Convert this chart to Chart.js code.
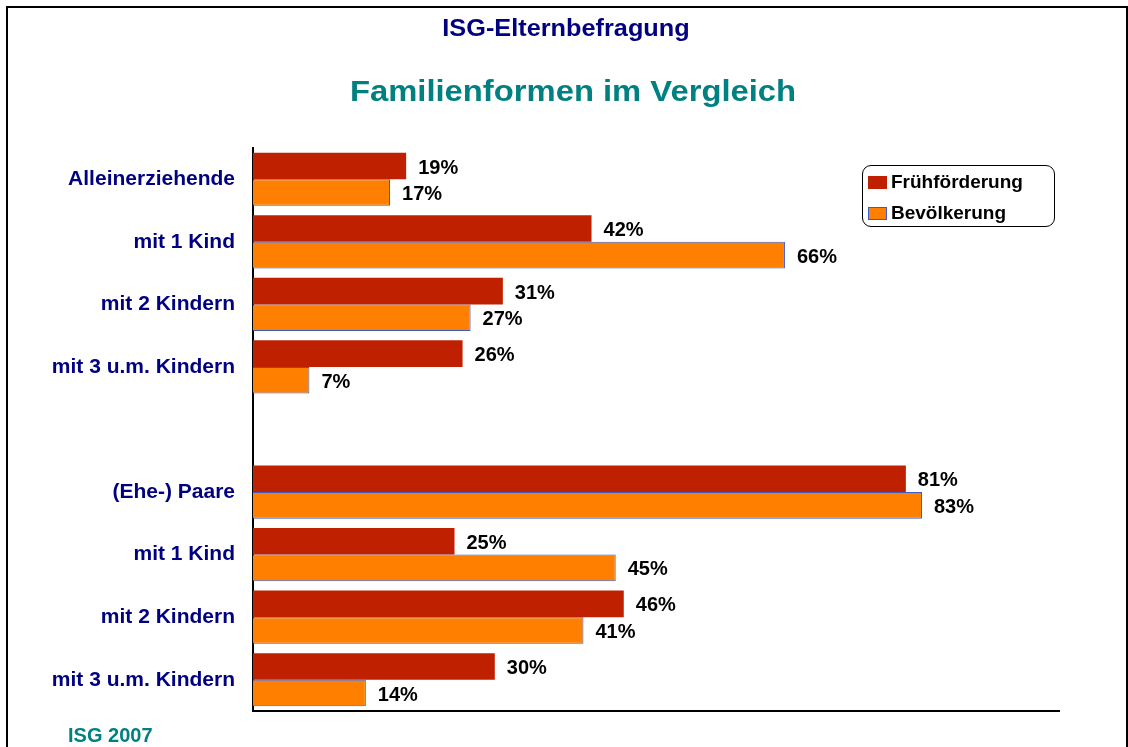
<!DOCTYPE html>
<html>
<head>
<meta charset="utf-8">
<script src="https://cdn.jsdelivr.net/npm/chart.js@4.4.0/dist/chart.umd.min.js"></script>
<style>
  body { margin: 0; background: #fff; overflow: hidden; }
  #wrap { position: relative; width: 1128px; height: 747px; }
  #rahmen { position: absolute; left: 6px; top: 6px; width: 1118px; height: 800px; border: 2px solid #000; border-bottom: none; }
  #legende { position: absolute; left: 862px; top: 165px; width: 191px; height: 60px; border: 1.5px solid #000; border-radius: 9px; background: #fff;
             font: bold 19px "Liberation Sans", Arial, sans-serif; color: #000; }
  .eintrag { position: absolute; left: 5px; height: 22px; line-height: 22px; white-space: nowrap; }
  .eintrag span { display: inline-block; width: 19px; height: 13px; margin-right: 4px; vertical-align: -1px; box-sizing: border-box; }
</style>
</head>
<body>
<div id="wrap">
  <canvas id="grafik" width="1128" height="747"></canvas>
  <div id="rahmen"></div>
  <div id="legende"></div>
</div>
<script>
// Daten
const kategorien = ['Alleinerziehende', 'mit 1 Kind', 'mit 2 Kindern', 'mit 3 u.m. Kindern', '',
                    '(Ehe-) Paare', 'mit 1 Kind', 'mit 2 Kindern', 'mit 3 u.m. Kindern'];
const fruehfoerderung = [19, 42, 31, 26, null, 81, 25, 46, 30];
const bevoelkerung = [17, 66, 27, 7, null, 83, 45, 41, 14];

const rot = '#BF2000';
const orange = '#FF8000';
const blau = '#3A5BC8';
const schrift = '"Liberation Sans", Arial, sans-serif';

// Titel, Werte und Quelle direkt auf die Leinwand
const beschriftung = {
    id: 'beschriftung',
    afterDraw(chart) {
        const ctx = chart.ctx;
        ctx.save();
        // Titel leicht gestreckt wie im Original
        ctx.textAlign = 'center';
        ctx.textBaseline = 'alphabetic';
        ctx.fillStyle = '#000080';
        ctx.font = 'bold 23px ' + schrift;
        ctx.save(); ctx.translate(566, 36); ctx.scale(1.1, 1); ctx.fillText('ISG-Elternbefragung', 0, 0); ctx.restore();
        ctx.fillStyle = '#008080';
        ctx.font = 'bold 29px ' + schrift;
        ctx.save(); ctx.translate(573, 101); ctx.scale(1.13, 1); ctx.fillText('Familienformen im Vergleich', 0, 0); ctx.restore();

        // Prozentwerte rechts neben den Balken
        ctx.textAlign = 'left';
        ctx.textBaseline = 'middle';
        ctx.fillStyle = '#000';
        ctx.font = 'bold 20px ' + schrift;
        chart.data.datasets.forEach((ds, i) => {
            chart.getDatasetMeta(i).data.forEach((bar, j) => {
                if (ds.data[j] == null) return;
                ctx.fillText(ds.data[j] + '%', bar.x + 12, bar.y + 2);
            });
        });

        ctx.fillStyle = '#008080';
        ctx.font = 'bold 20px ' + schrift;
        ctx.textBaseline = 'alphabetic';
        ctx.fillText('ISG 2007', 68, 742);
        ctx.restore();
    }
};

const grafik = new Chart(document.getElementById('grafik'), {
    type: 'bar',
    data: {
        labels: kategorien,
        datasets: [
            { label: 'Frühförderung', data: fruehfoerderung, backgroundColor: rot, borderWidth: 0 },
            { label: 'Bevölkerung', data: bevoelkerung, backgroundColor: orange, borderColor: blau, borderWidth: 1 }
        ]
    },
    options: {
        indexAxis: 'y',
        responsive: false,
        animation: false,
        categoryPercentage: 0.85,
        barPercentage: 1.0,
        layout: { padding: { top: 148, bottom: 28, right: 69, left: 0 } },
        plugins: {
            legend: { display: false },
            tooltip: { enabled: false }
        },
        scales: {
            x: {
                min: 0, max: 100,
                ticks: { display: false },
                grid: { display: false },
                border: { display: true, color: '#000', width: 2 }
            },
            y: {
                ticks: { color: '#000080', font: { family: schrift, size: 21, weight: 'bold' }, padding: 10 },
                grid: { display: false },
                border: { display: true, color: '#000', width: 2 },
                afterFit(scale) { scale.width = 253; }
            }
        }
    },
    plugins: [beschriftung]
});

// Legende aus den Datensätzen
const legende = document.getElementById('legende');
grafik.data.datasets.forEach((ds, i) => {
    const e = document.createElement('div');
    e.className = 'eintrag';
    e.style.top = (i === 0 ? 5 : 36) + 'px';
    const kasten = document.createElement('span');
    kasten.style.background = ds.backgroundColor;
    if (ds.borderWidth) kasten.style.border = '1px solid ' + ds.borderColor;
    e.appendChild(kasten);
    e.appendChild(document.createTextNode(ds.label));
    legende.appendChild(e);
});
</script>
</body>
</html>
